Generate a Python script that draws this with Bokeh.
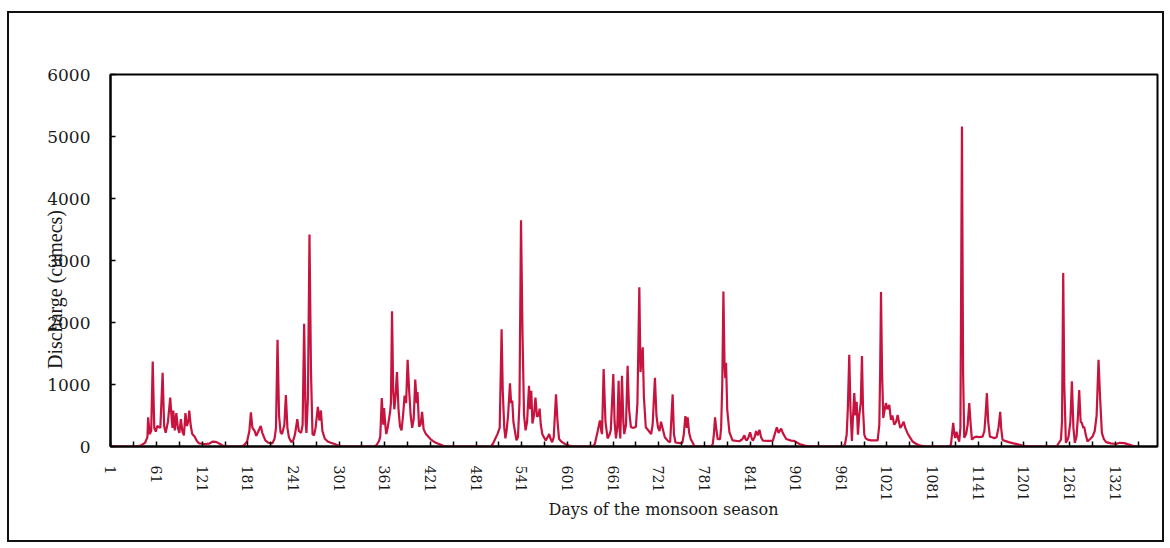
import math

from bokeh.embed import file_html
from bokeh.models import FixedTicker, Label, Range1d, Title
from bokeh.plotting import figure
from bokeh.resources import INLINE

# Daily discharge (cumecs) over successive monsoon seasons, as line vertices.
s1_day = [1, 33, 40, 46, 49, 50, 52, 54, 56, 58, 60, 62, 66, 69, 71, 73, 76, 79, 81, 82, 83, 85, 87, 89,
          91, 93, 95, 97, 99, 101, 103, 104, 106, 108, 111, 114, 117, 124, 130, 135, 140, 145, 150]
s1_q = [0, 0, 15, 60, 150, 470, 200, 250, 1370, 300, 240, 330, 300, 1190, 330, 220, 400, 790, 420, 300,
        580, 260, 540, 300, 220, 440, 240, 180, 540, 330, 420, 580, 330, 200, 160, 90, 50, 40, 45, 80,
        70, 35, 0]

s2_day = [172, 176, 180, 183, 185, 187, 190, 192, 195, 198, 200, 204, 208, 213, 216, 218, 220, 222, 224,
          226, 229, 231, 233, 235, 238, 241, 243, 246, 248, 251, 253, 255, 257, 258, 260, 262, 264, 266,
          268, 270, 273, 275, 277, 279, 282, 286, 290, 295, 300, 305]
s2_q = [0, 20, 80, 250, 550, 300, 250, 170, 250, 330, 220, 100, 60, 50, 120, 300, 1720, 500, 230, 200,
        350, 830, 300, 150, 70, 110, 200, 440, 250, 220, 350, 1980, 400, 220, 800, 3420, 1200, 200, 180,
        300, 640, 420, 580, 250, 130, 80, 60, 40, 15, 0]

s3_day = [347, 350, 353, 355, 357, 359, 360, 362, 363, 365, 368, 369, 370.5, 372, 373.5, 375, 377, 379,
          381, 383, 385, 387, 389, 391, 393, 395, 397, 399, 401, 403, 404, 406, 408, 410, 412, 415, 418,
          421, 424, 428, 433, 437, 441]
s3_q = [0, 20, 80, 150, 780, 350, 620, 300, 200, 320, 560, 700, 2180, 900, 600, 800, 1200, 600, 320, 260,
        500, 820, 700, 1400, 900, 500, 300, 450, 1080, 700, 880, 320, 350, 560, 280, 200, 160, 120, 90,
        60, 35, 15, 0]

s4_day = [500, 503, 506, 509, 512, 514.5, 516, 518, 519.5, 521, 523, 525.5, 527, 528.5, 530, 532, 534,
          536, 538, 540, 542, 544, 546, 548, 550.5, 552, 553.5, 555, 557, 559, 561, 563, 564.5, 566, 568,
          570, 572.5, 575, 577, 579, 581, 583, 586, 588, 590, 594, 598, 603, 610]
s4_q = [0, 40, 120, 200, 300, 1890, 900, 300, 130, 250, 500, 1020, 700, 740, 400, 250, 100, 150, 700,
        3650, 1800, 500, 260, 400, 980, 600, 900, 370, 500, 790, 480, 500, 610, 350, 200, 150, 100, 150,
        200, 120, 70, 150, 840, 400, 120, 70, 40, 15, 0]

s5_day = [634, 637, 639, 641, 643.7, 645.5, 646.5, 648.6, 651, 653.8, 656, 658, 661.3, 663, 664.8, 666.5,
          668.3, 669.5, 670.5, 672.7, 674.5, 675.7, 678, 680.1, 682, 684.5, 688, 691, 693, 695.5, 697,
          698.5, 700, 701.5, 704, 708, 711, 713, 716, 718, 720, 722, 724, 726, 729, 733, 736, 739.3, 741,
          743, 749, 752, 754, 756, 758, 759, 761, 763, 765.7, 768]
s5_q = [0, 40, 150, 260, 420, 250, 200, 1250, 400, 130, 180, 260, 1170, 400, 130, 300, 1060, 300, 130,
        1140, 400, 200, 350, 1300, 600, 310, 300, 320, 700, 2570, 1200, 1400, 1600, 800, 310, 250, 200,
        350, 1110, 500, 310, 250, 400, 300, 150, 90, 70, 840, 200, 65, 55, 60, 200, 490, 300, 470, 220,
        120, 60, 0]

s6_day = [790, 792, 793.5, 795, 797, 798.5, 801.6, 803, 804.5, 806, 807.5, 808.5, 809.5, 811, 813.9, 818,
          827, 831, 833.6, 835, 836.7, 839, 841.1, 843, 844.6, 847, 849, 851, 853.4, 855.5, 857.8, 865,
          871, 873.5, 876.2, 878.5, 881.9, 884, 888.5, 895, 899, 906, 914, 923]
s6_q = [0, 40, 200, 470, 250, 120, 120, 300, 1000, 2500, 1300, 1100, 1350, 600, 230, 100, 85, 120, 180,
        120, 95, 150, 230, 140, 95, 150, 250, 180, 270, 150, 95, 90, 95, 200, 310, 220, 290, 220, 120, 95,
        90, 40, 12, 0]

s7_day = [964, 966, 968, 969.5, 971.4, 973, 974.9, 976, 978, 979.5, 981.1, 982.8, 984.6, 986.5, 988.1,
          989.5, 991.2, 993, 995.6, 1000, 1008.7, 1010.9, 1012, 1013.1, 1014.5, 1016.1, 1018, 1019.6,
          1021.5, 1024, 1026.2, 1028, 1030.6, 1033, 1035, 1037, 1038.5, 1041, 1042.9, 1045, 1048, 1051,
          1054.7, 1059, 1063.4, 1072]
s7_q = [0, 50, 190, 600, 1480, 600, 90, 400, 860, 500, 720, 190, 510, 700, 1460, 600, 190, 130, 110, 100,
        100, 350, 1200, 2490, 1200, 460, 600, 700, 600, 670, 430, 500, 350, 400, 510, 380, 300, 350, 400,
        300, 215, 150, 80, 45, 20, 0]

s8_day = [1103, 1105, 1106.5, 1108, 1109.5, 1110.7, 1112.4, 1114, 1115.9, 1117.5, 1119.5, 1121, 1122.5,
          1125, 1127, 1129.1, 1131, 1132.6, 1135, 1137.8, 1142, 1146.6, 1149, 1150.5, 1152.3, 1154, 1156.2,
          1159, 1161.9, 1165, 1167.5, 1169.8, 1171, 1172.8, 1176, 1181, 1186, 1193, 1199, 1208]
s8_q = [0, 30, 200, 380, 200, 135, 240, 150, 80, 300, 5160, 1200, 140, 200, 350, 700, 350, 110, 140, 160,
        150, 160, 250, 500, 860, 400, 160, 150, 135, 150, 300, 560, 300, 110, 90, 70, 55, 35, 15, 0]

s9_day = [1243, 1245, 1247, 1249.6, 1251, 1252.6, 1254, 1256.1, 1258, 1259.6, 1262, 1264, 1266, 1267.9,
          1270.1, 1272, 1273.6, 1275.5, 1277.1, 1279, 1280.2, 1282, 1284.5, 1288, 1291.1, 1294, 1296.5,
          1299, 1301, 1303.4, 1306, 1309, 1315, 1322, 1327, 1333, 1338, 1343, 1349]
s9_q = [0, 20, 60, 110, 400, 2800, 1000, 60, 100, 160, 400, 1050, 300, 60, 160, 500, 910, 400, 380, 300,
        320, 200, 80, 120, 160, 250, 500, 1400, 800, 220, 120, 70, 50, 40, 60, 55, 35, 15, 0]

x_ticks = [1, 61, 121, 181, 241, 301, 361, 421, 481, 541, 601, 661, 721, 781, 841, 901, 961, 1021, 1081,
           1141, 1201, 1261, 1321]
x_minor_ticks = [31, 91, 151, 211, 271, 331, 391, 451, 511, 571, 631, 691, 751, 811, 871, 931, 991, 1051,
                 1111, 1171, 1231, 1291, 1351]
y_ticks = [0, 1000, 2000, 3000, 4000, 5000, 6000]

days = (s1_day + s2_day + s3_day + s4_day + s5_day + s6_day + s7_day + s8_day + s9_day)
discharge = (s1_q + s2_q + s3_q + s4_q + s5_q + s6_q + s7_q + s8_q + s9_q)

# canvas sits inside a thin dark frame drawn by the element's own border
p = figure(
    width=1157, height=531, margin=(11, 0, 0, 7),
    x_range=Range1d(0.5, 1376.5), y_range=Range1d(0, 6000),
    output_backend="svg", toolbar_location=None,
    min_border_left=101, min_border_right=9, min_border_top=61, min_border_bottom=98,
    background_fill_color="white", border_fill_color="white",
)
p.styles = {"border": "2px solid #111111"}
p.xgrid.visible = False
p.ygrid.visible = False
p.outline_line_color = "black"
p.outline_line_width = 2

p.line(days, discharge, line_color="#c6143f", line_width=2.2)

# x axis: labelled every 60 days, extra ticks halfway between
xa = p.xaxis[0]
xa.ticker = FixedTicker(ticks=x_ticks, minor_ticks=x_minor_ticks)
xa.major_label_orientation = "vertical"
xa.major_label_standoff = 19
xa.major_label_text_font = "DejaVu Serif"
xa.major_label_text_font_size = "14px"
xa.major_label_text_color = "#1a1a1a"
xa.axis_line_width = 2
xa.major_tick_in = 5
xa.major_tick_out = 0
xa.minor_tick_in = 5
xa.minor_tick_out = 0
xa.major_tick_line_width = 1.5
xa.minor_tick_line_width = 1.5

ya = p.yaxis[0]
ya.ticker = FixedTicker(ticks=y_ticks)
ya.major_label_standoff = 20
ya.major_label_text_font = "DejaVu Serif"
ya.major_label_text_font_size = "17px"
ya.major_label_text_color = "#1a1a1a"
ya.axis_line_width = 2
ya.major_tick_in = 5
ya.major_tick_out = 0
ya.major_tick_line_width = 1.5
ya.minor_tick_line_color = None

# axis titles
p.add_layout(Title(text="Days of the monsoon season", align="left", offset=438, standoff=-14,
                   text_font="DejaVu Serif", text_font_size="16px", text_font_style="normal",
                   text_color="#1a1a1a"), "below")
p.add_layout(Label(x=-73, y=2532, text="Discharge (cumecs)", angle=math.pi / 2,
                   text_font="Liberation Serif", text_font_size="20px", text_color="#1a1a1a",
                   text_align="center", text_baseline="middle"), "left")

open("out.html", "w").write(file_html(p, INLINE))
